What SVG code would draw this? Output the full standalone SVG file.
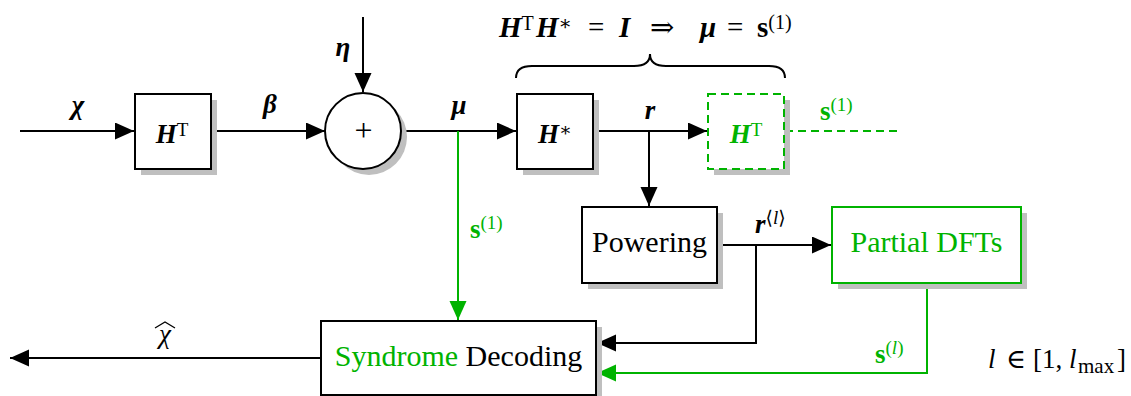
<svg xmlns="http://www.w3.org/2000/svg" width="1131" height="396" viewBox="0 0 1131 396">
<style>
  .bg{fill:#fff}
  .box{fill:#fff;stroke:#000;stroke-width:2}
  .gbox{fill:#fff;stroke:#00b300;stroke-width:2}
  .dbox{fill:#fff;stroke:#00b300;stroke-width:2;stroke-dasharray:8 5}
  .sh{fill:#bfbfbf}
  .ln{fill:none;stroke:#000;stroke-width:2}
  .gln{fill:none;stroke:#00b300;stroke-width:2}
  .dln{fill:none;stroke:#00b300;stroke-width:2;stroke-dasharray:8 5}
  text{font-family:'Liberation Serif','DejaVu Serif',serif;fill:#000}
  .m{font-size:27px}
  .bi{font-weight:bold;font-style:italic}
  .b{font-weight:bold}
  .i{font-style:italic}
  .sup{font-size:19px}
  .g{fill:#00b300}
  .t{font-size:30px}
</style>
<defs>
  <marker id="ak" markerUnits="userSpaceOnUse" markerWidth="20" markerHeight="18" refX="19" refY="8.5" orient="auto">
    <path d="M0,0 L19,8.5 L0,17 z" fill="#000"/>
  </marker>
  <marker id="ag" markerUnits="userSpaceOnUse" markerWidth="20" markerHeight="18" refX="19" refY="8.5" orient="auto">
    <path d="M0,0 L19,8.5 L0,17 z" fill="#00b300"/>
  </marker>
</defs>
<rect class="bg" x="0" y="0" width="1131" height="396"/>

<g id="connectors">
  <line class="ln" x1="20" y1="131" x2="134" y2="131" marker-end="url(#ak)"/>
  <line class="ln" x1="211" y1="131" x2="325" y2="131" marker-end="url(#ak)"/>
  <line class="ln" x1="363" y1="17" x2="363" y2="92" marker-end="url(#ak)"/>
  <line class="ln" x1="401" y1="131" x2="516" y2="131" marker-end="url(#ak)"/>
  <line class="ln" x1="593" y1="131" x2="707" y2="131" marker-end="url(#ak)"/>
  <line class="ln" x1="649" y1="131" x2="649" y2="206" marker-end="url(#ak)"/>
  <line class="dln" x1="785" y1="131" x2="898" y2="131"/>
  <line class="gln" x1="458" y1="131" x2="458" y2="320" marker-end="url(#ag)"/>
  <line class="ln" x1="717" y1="245" x2="831" y2="245" marker-end="url(#ak)"/>
  <polyline class="ln" points="756,245 756,343 597,343" marker-end="url(#ak)"/>
  <polyline class="gln" points="927,283 927,373 597,373" marker-end="url(#ag)"/>
  <line class="ln" x1="321" y1="358" x2="10" y2="358" marker-end="url(#ak)"/>
  <path class="ln" d="M516,78 Q516,66 532,66 L634,66 Q650,66 650,54 Q650,66 666,66 L769,66 Q785,66 785,78"/>
</g>

<g id="labels">
  <text class="m bi" x="78" y="114" text-anchor="middle">χ</text>
  <text class="m bi" x="270" y="113" text-anchor="middle">β</text>
  <text class="m bi" x="343" y="56" text-anchor="middle">η</text>
  <text class="m bi" x="459" y="114" text-anchor="middle">μ</text>
  <text class="m bi" x="650" y="119" text-anchor="middle">r</text>
  <text class="m g" x="820" y="120"><tspan class="b">s</tspan><tspan class="sup" dy="-9">(1)</tspan></text>
  <text class="m g" x="470" y="238"><tspan class="b">s</tspan><tspan class="sup" dy="-9">(1)</tspan></text>
  <text class="m" x="755" y="233"><tspan class="bi">r</tspan><tspan class="sup" dy="-9">⟨<tspan class="i">l</tspan>⟩</tspan></text>
  <text class="m g" x="875" y="363"><tspan class="b">s</tspan><tspan class="sup" dy="-9">(<tspan class="i">l</tspan>)</tspan></text>
  <text class="m" x="988" y="368"><tspan class="i">l</tspan><tspan x="1006">∈</tspan><tspan x="1033">[1,</tspan><tspan class="i" x="1069">l</tspan><tspan x="1078" dy="5" font-size="21">max</tspan><tspan x="1117" dy="-5">]</tspan></text>
  <text class="m i" x="165" y="343" text-anchor="middle">χ</text>
  <polyline points="155,328 165,322 175,328" fill="none" stroke="#000" stroke-width="1.3"/>
  <text y="37" font-size="29"><tspan class="bi" x="499">H</tspan><tspan dy="-7" font-size="20">T</tspan><tspan class="bi" x="536" dy="7">H</tspan><tspan dy="-7" font-size="20">∗</tspan><tspan x="588" dy="7">=</tspan><tspan class="bi" x="619">I</tspan><tspan x="650">⇒</tspan><tspan class="bi" x="700">μ</tspan><tspan x="727">=</tspan><tspan class="b" x="757">s</tspan><tspan dy="-8" font-size="20">(1)</tspan></text>
</g>

<g id="n-HT">
  <rect class="sh" x="141" y="100" width="76" height="75"/>
  <rect class="box" x="135" y="94" width="76" height="75"/>
  <text class="m" x="172" y="143" text-anchor="middle"><tspan class="bi">H</tspan><tspan class="sup" dy="-7">T</tspan></text>
</g>

<g id="n-sum">
  <circle class="sh" cx="369" cy="137" r="38"/>
  <circle class="box" cx="363" cy="131" r="38"/>
  <text x="363.5" y="141" font-size="32" text-anchor="middle">+</text>
</g>

<g id="n-Hstar">
  <rect class="sh" x="523" y="100" width="76" height="75"/>
  <rect class="box" x="517" y="94" width="76" height="75"/>
  <text class="m" x="555" y="143" text-anchor="middle"><tspan class="bi">H</tspan><tspan class="sup" dy="-7">∗</tspan></text>
</g>

<g id="n-HT2">
  <rect class="sh" x="714" y="100" width="76" height="75"/>
  <rect class="dbox" x="708" y="94" width="76" height="75"/>
  <text class="m g" x="746" y="143" text-anchor="middle"><tspan class="bi">H</tspan><tspan class="sup" dy="-7">T</tspan></text>
</g>

<g id="n-powering">
  <rect class="sh" x="588" y="213" width="135" height="76"/>
  <rect class="box" x="582" y="207" width="135" height="76"/>
  <text class="t" x="649.5" y="252" text-anchor="middle">Powering</text>
</g>

<g id="n-dft">
  <rect class="sh" x="838" y="213" width="189" height="76"/>
  <rect class="gbox" x="832" y="207" width="189" height="76"/>
  <text class="t g" x="926.5" y="252" text-anchor="middle">Partial DFTs</text>
</g>

<g id="n-decoding">
  <rect class="sh" x="327" y="327" width="275" height="75"/>
  <rect class="box" x="321" y="321" width="275" height="74"/>
  <text class="t" x="458.5" y="366" text-anchor="middle"><tspan class="g">Syndrome</tspan> Decoding</text>
</g>
</svg>
